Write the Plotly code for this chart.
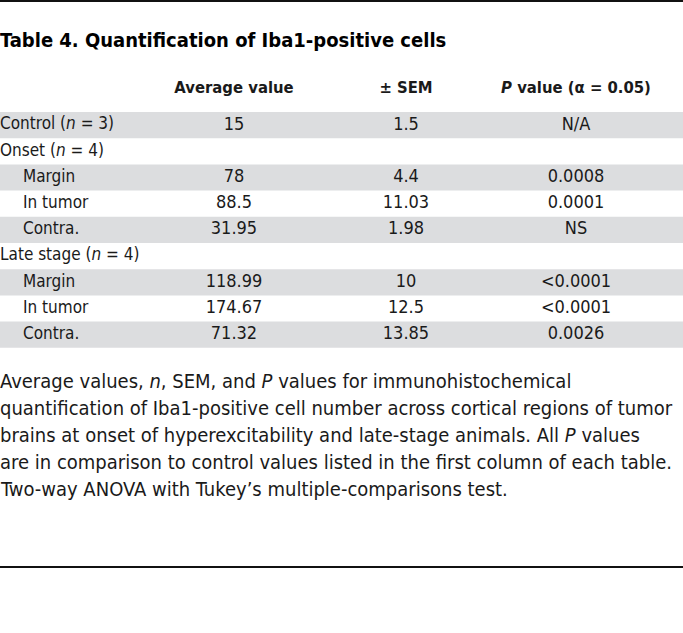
import plotly.graph_objects as go

# ---- data ----
title = "<b>Table 4. Quantification of Iba1-positive cells</b>"
headers = ["Average value", "± SEM", "<i>P</i> value (α = 0.05)"]
row_labels = ["Control (<i>n</i> = 3)", "Onset (<i>n</i> = 4)", "Margin", "In tumor", "Contra.",
              "Late stage (<i>n</i> = 4)", "Margin", "In tumor", "Contra."]
row_indent = [0, 0, 1, 1, 1, 0, 1, 1, 1]
avg_values = ["15", "", "78", "88.5", "31.95", "", "118.99", "174.67", "71.32"]
sem_values = ["1.5", "", "4.4", "11.03", "1.98", "", "10", "12.5", "13.85"]
p_values = ["N/A", "", "0.0008", "0.0001", "NS", "", "<0.0001", "<0.0001", "0.0026"]
caption = [
    "Average values, <i>n</i>, SEM, and <i>P</i> values for immunohistochemical",
    "quantification of Iba1-positive cell number across cortical regions of tumor",
    "brains at onset of hyperexcitability and late-stage animals. All <i>P</i> values",
    "are in comparison to control values listed in the first column of each table.",
    "Two-way ANOVA with Tukey’s multiple-comparisons test.",
]

# ---- layout constants ----
W, H = 683, 633
FONT = "DejaVu Sans Condensed, Liberation Sans Narrow, Roboto, sans-serif"
TXT = "#1a1a1a"
BAND = "#dcdddf"
col_x = [234, 406, 576]
row_top = 112
row_h = 26.2
header_y = 89
title_y = 40
cap_y0 = 381
cap_dy = 27

fig = go.Figure()

shapes = []
# top and bottom rules
shapes.append(dict(type="line", x0=0, x1=W, y0=1, y1=1, line=dict(color="#111", width=2)))
shapes.append(dict(type="line", x0=0, x1=W, y0=567, y1=567, line=dict(color="#111", width=2)))
# alternating bands
for i in range(len(row_labels)):
    if i % 2 == 0:
        y0 = row_top + i * row_h
        shapes.append(dict(type="rect", x0=0, x1=W, y0=y0, y1=y0 + row_h,
                           fillcolor=BAND, line=dict(width=0), layer="below"))

row_y = [row_top + (i + 0.5) * row_h for i in range(len(row_labels))]

# row labels
fig.add_trace(go.Scatter(
    x=[0 + 23 * ind for ind in row_indent], y=row_y, mode="text",
    text=row_labels, textposition="middle right",
    textfont=dict(family=FONT, size=17, color=TXT), hoverinfo="skip", showlegend=False))

# value columns
for cx, vals in zip(col_x, [avg_values, sem_values, p_values]):
    fig.add_trace(go.Scatter(
        x=[cx] * len(vals), y=row_y, mode="text", text=vals,
        textposition="middle center",
        textfont=dict(family=FONT, size=18, color=TXT), hoverinfo="skip", showlegend=False))

# headers
fig.add_trace(go.Scatter(
    x=col_x, y=[header_y] * 3, mode="text", text=["<b>%s</b>" % h for h in headers],
    textposition="middle center",
    textfont=dict(family=FONT, size=16.5, color=TXT), hoverinfo="skip", showlegend=False))

annotations = [dict(x=0, y=title_y, xref="x", yref="y", text=title, showarrow=False,
                    xanchor="left", yanchor="middle", xshift=-2,
                    font=dict(family=FONT, size=20, color="#000"))]
for k, line in enumerate(caption):
    annotations.append(dict(x=0, y=cap_y0 + k * cap_dy, xref="x", yref="y", text=line,
                            showarrow=False, xanchor="left", yanchor="middle", xshift=-2,
                            font=dict(family=FONT, size=20, color=TXT)))

fig.update_layout(
    width=W, height=H, margin=dict(l=0, r=0, t=0, b=0),
    paper_bgcolor="white", plot_bgcolor="white",
    xaxis=dict(range=[0, W], visible=False, fixedrange=True),
    yaxis=dict(range=[H, 0], visible=False, fixedrange=True),
    shapes=shapes, annotations=annotations,
)

fig.write_html("out.html", config={"displayModeBar": False},
               post_script="document.body.style.margin='0';")
